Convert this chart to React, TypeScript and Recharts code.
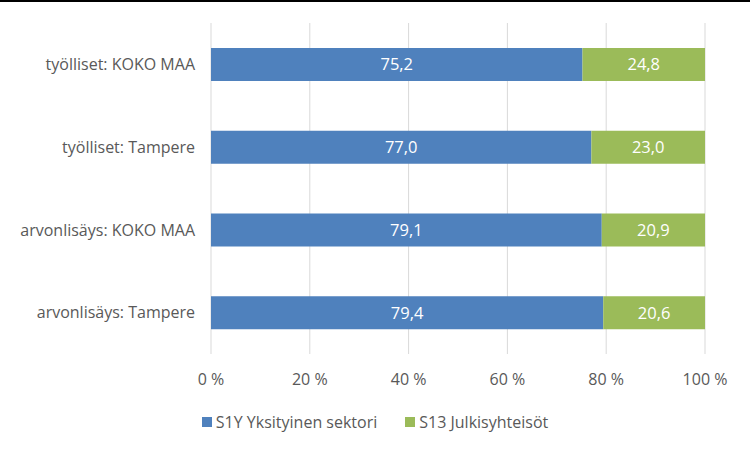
import { BarChart, Bar, XAxis, YAxis, CartesianGrid, LabelList } from 'recharts'

const categories = [
  'työlliset: KOKO MAA',
  'työlliset: Tampere',
  'arvonlisäys: KOKO MAA',
  'arvonlisäys: Tampere',
]
const yksityinen = [75.2, 77.0, 79.1, 79.4]
const julkinen = [24.8, 23.0, 20.9, 20.6]
const xTicks = [0, 20, 40, 60, 80, 100]

const seriesNames = ['S1Y Yksityinen sektori', 'S13 Julkisyhteisöt']
const colors = ['#4f81bd', '#9bbb59']

const data = categories.map((name, i) => ({
  name,
  s1y: yksityinen[i],
  s13: julkinen[i],
}))

const font = '"Open Sans", Lato, sans-serif'
const fmt = (v: any) => Number(v).toFixed(1).replace('.', ',')

function LegendBox() {
  return (
    <div style={{ position: 'absolute', left: 0, width: 750, top: 409, display: 'flex', justifyContent: 'center', gap: 28, fontFamily: font, fontSize: 16, color: '#595959', lineHeight: '22px' }}>
      {seriesNames.map((n, i) => (
        <div key={n} style={{ display: 'flex', alignItems: 'center' }}>
          <span style={{ width: 10, height: 10, background: colors[i], marginRight: 4, display: 'inline-block' }} />
          {n}
        </div>
      ))}
    </div>
  )
}

export default function App() {
  return (
    <div style={{ position: 'absolute', left: 0, top: 0, width: 750, height: 451, background: '#fff', borderTop: '2px solid #000', boxSizing: 'border-box' }}>
      <BarChart
        width={750}
        height={449}
        data={data}
        layout="vertical"
        margin={{ top: 21, right: 45, bottom: 67, left: 0 }}
        style={{ fontFamily: font }}
      >
        <CartesianGrid horizontal={false} stroke="#d9d9d9" />
        <XAxis
          type="number"
          domain={[0, 100]}
          ticks={xTicks}
          tickFormatter={(v) => `${v} %`}
          axisLine={false}
          tickLine={false}
          tick={{ fill: '#595959', fontSize: 16 }}
          tickMargin={14}
        />
        <YAxis
          type="category"
          dataKey="name"
          width={211}
          axisLine={false}
          tickLine={false}
          tick={{ fill: '#595959', fontSize: 16 }}
          tickMargin={10}
        />
        <Bar dataKey="s1y" stackId="a" fill={colors[0]} barSize={33} isAnimationActive={false}>
          <LabelList dataKey="s1y" position="center" fill="#fff" fontSize={16.5} formatter={fmt} />
        </Bar>
        <Bar dataKey="s13" stackId="a" fill={colors[1]} barSize={33} isAnimationActive={false}>
          <LabelList dataKey="s13" position="center" fill="#fff" fontSize={16.5} formatter={fmt} />
        </Bar>
      </BarChart>
      <LegendBox />
    </div>
  )
}
